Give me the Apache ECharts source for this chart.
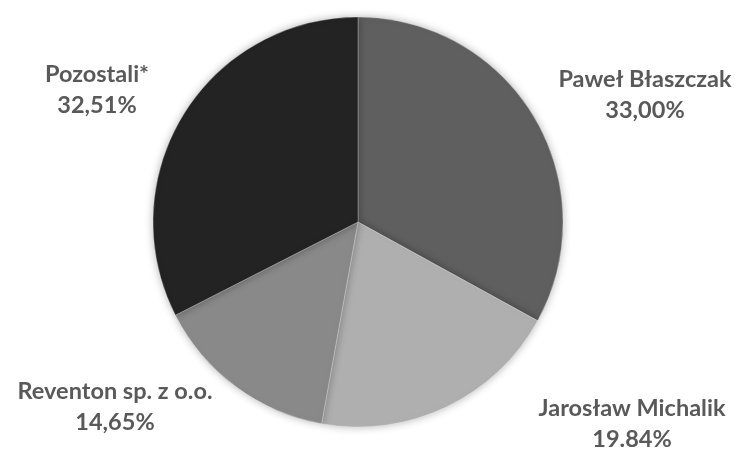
<!DOCTYPE html>
<html>
<head>
<meta charset="utf-8">
<script src="https://cdn.jsdelivr.net/npm/echarts@6/dist/echarts.min.js"></script>
<style>html,body{margin:0;padding:0;background:#fff;}#c{width:735px;height:450px;}</style>
</head>
<body>
<div id="c"></div>
<script>
const names = ['Paweł Błaszczak', 'Jarosław Michalik', 'Reventon sp. z o.o.', 'Pozostali*'];
const values = [33.00, 19.84, 14.65, 32.51];
const labelTexts = ['33,00%', '19.84%', '14,65%', '32,51%'];
const colors = ['#5f5f5f', '#afafaf', '#898989', '#232323'];
const labelPos = [[645, 95], [632, 424], [115, 407], [97, 90]];

const chart = echarts.init(document.getElementById('c'));
chart.setOption({
  animation: false,
  series: [{
    type: 'pie',
    center: [358, 222],
    radius: [0, 205],
    startAngle: 90,
    clockwise: true,
    data: names.map((n, i) => ({ name: n, value: values[i], itemStyle: { color: colors[i] } })),
    itemStyle: {
      borderColor: 'rgba(255,255,255,0.35)',
      borderWidth: 0.8,
      shadowBlur: 8,
      shadowColor: 'rgba(0,0,0,0.3)'
    },
    label: {
      show: true,
      formatter: p => p.name + '\n' + labelTexts[p.dataIndex],
      fontFamily: 'Lato',
      fontWeight: 'bold',
      fontSize: 23.5,
      lineHeight: 31,
      color: '#595959',
      align: 'center',
      overflow: 'none',
      width: 300
    },
    labelLine: { show: false },
    labelLayout: p => ({
      x: labelPos[p.dataIndex][0],
      y: labelPos[p.dataIndex][1],
      align: 'center',
      verticalAlign: 'middle'
    })
  }]
});
</script>
</body>
</html>
